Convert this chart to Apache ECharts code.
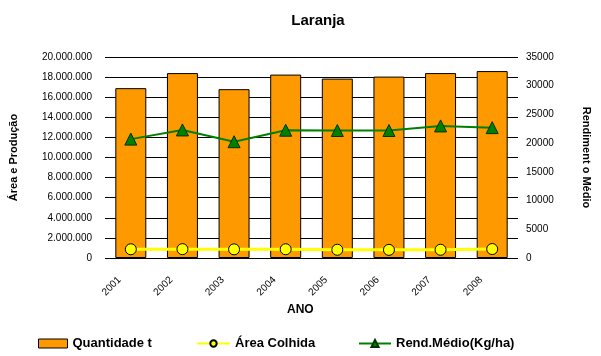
<!DOCTYPE html>
<html><head><meta charset="utf-8">
<script src="https://cdn.jsdelivr.net/npm/echarts@6/dist/echarts.min.js"></script>
<style>html,body{margin:0;padding:0;background:#fff}#c{width:601px;height:356px}</style>
</head><body><div id="c"></div>
<script>
const years = ['2001','2002','2003','2004','2005','2006','2007','2008'];
const quantidade = [16900000, 18400000, 16800000, 18250000, 17850000, 18050000, 18400000, 18600000];
const areaColhida = [870000, 880000, 860000, 870000, 820000, 810000, 820000, 890000];
const rendMedio = [20700, 22300, 20250, 22250, 22200, 22200, 23000, 22700];
const leftTicks = [0, 2000000, 20000000];
const rightTicks = [0, 5000, 35000];

const F = '"Liberation Sans", Arial, sans-serif';
function dots(v){ return String(v).replace(/\B(?=(\d{3})+(?!\d))/g, '.'); }
const legendText = { fontFamily: F, fontSize: 13, fontWeight: 'bold', color: '#000' };

const chart = echarts.init(document.getElementById('c'), null, {renderer:'canvas'});
chart.setOption({
  animation: false,
  backgroundColor: '#fff',
  title: { text: 'Laranja', left: 313, top: 8, textAlign: 'center',
    textStyle: { fontFamily: F, fontSize: 15, fontWeight: 'bold', color: '#000' } },
  grid: { left: 101, right: 83, top: 57, bottom: 98, containLabel: false },
  legend: [
    { data: [{ name: 'Quantidade t', icon: 'rect' }], left: 33, top: 332, itemWidth: 29, itemHeight: 9, itemGap: 4,
      itemStyle: { borderWidth: 1, borderColor: '#000' }, textStyle: legendText },
    { data: ['Área Colhida'], left: 191, top: 332, itemWidth: 33, itemHeight: 8,
      textStyle: legendText },
    { data: ['Rend.Médio(Kg/ha)'], left: 353, top: 332, itemWidth: 32, itemHeight: 9,
      textStyle: legendText }
  ],
  graphic: [
    { type: 'text', left: 287, top: 304, style: { text: 'ANO', font: 'bold 12px ' + F, fill: '#000' } }
  ],
  xAxis: {
    type: 'category', data: years,
    axisLine: { show: false }, axisTick: { show: false },
    axisLabel: { rotate: 45, fontFamily: F, fontSize: 10, color: '#000', margin: 9, padding: [0, 16, 0, 0] }
  },
  yAxis: [
    { type: 'value', min: leftTicks[0], max: leftTicks[2], interval: leftTicks[1],
      name: 'Área e Produção', nameLocation: 'middle', nameGap: 86, nameRotate: 90,
      nameTextStyle: { fontFamily: F, fontSize: 11, fontWeight: 'bold', color: '#000' },
      axisLine: { show: false }, axisTick: { show: false },
      axisLabel: { fontFamily: F, fontSize: 10, color: '#000', margin: 13, formatter: dots },
      splitLine: { show: true, lineStyle: { color: '#000', width: 1 } } },
    { type: 'value', min: rightTicks[0], max: rightTicks[2], interval: rightTicks[1], position: 'right',
      name: 'Rendiment o Médio', nameLocation: 'middle', nameGap: 63, nameRotate: -90,
      nameTextStyle: { fontFamily: F, fontSize: 11, fontWeight: 'bold', color: '#000' },
      axisLine: { show: false }, axisTick: { show: false },
      axisLabel: { fontFamily: F, fontSize: 10, color: '#000', margin: 8, formatter: function(v){ return String(v); } },
      splitLine: { show: false } }
  ],
  series: [
    { name: 'Quantidade t', type: 'bar', data: quantidade, barWidth: '60%', yAxisIndex: 0,
      itemStyle: { color: '#FF9900', borderColor: '#000', borderWidth: 1 } },
    { name: 'Área Colhida', type: 'line', data: areaColhida, yAxisIndex: 0,
      symbol: 'circle', symbolSize: 11, showAllSymbol: true,
      lineStyle: { color: '#FFFF00', width: 3 },
      itemStyle: { color: '#FFFF00', borderColor: '#000', borderWidth: 1 } },
    { name: 'Rend.Médio(Kg/ha)', type: 'line', data: rendMedio, yAxisIndex: 1,
      symbol: 'triangle', symbolSize: 12, showAllSymbol: true,
      lineStyle: { color: '#008000', width: 2 },
      itemStyle: { color: '#008000', borderColor: '#003300', borderWidth: 1 } }
  ]
});
</script></body></html>
